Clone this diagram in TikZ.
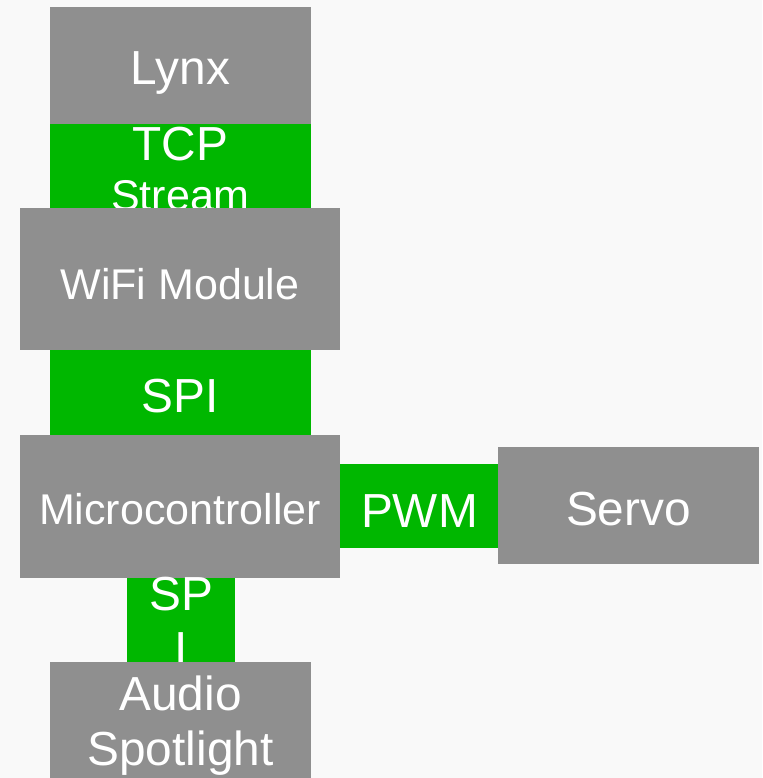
\documentclass[tikz,border=0pt]{standalone}
\usepackage{fontspec}
\setmainfont{Liberation Sans}
\definecolor{bg}{HTML}{F9F9F9}
\definecolor{blockgray}{HTML}{8F8F8F}
\definecolor{linkgreen}{HTML}{00B700}
\tikzset{
  block/.style={fill=blockgray, draw=none, inner sep=0pt, outer sep=0pt},
  link/.style={fill=linkgreen, draw=none, inner sep=0pt, outer sep=0pt},
  big/.style={text=white, inner sep=0pt, anchor=base, font=\fontsize{47.8}{55}\selectfont},
  small/.style={text=white, inner sep=0pt, anchor=base, font=\fontsize{43}{49}\selectfont},
}
\begin{document}
\begin{tikzpicture}[x=1pt, y=-1pt]
\useasboundingbox (0,0) rectangle (762,778);
\fill[bg] (0,0) rectangle (762,778);

% Lynx and its TCP link
\node[block, minimum width=261pt, minimum height=117pt] (lynx) at (180.5,65.5) {};
\node[big] (lynxtxt) at (180.5,84.5) {Lynx};
\node[link, minimum width=261pt, minimum height=85pt] (tcp) at (180.5,166.5) {};
\node[big] (tcptxt) at (180.5,160.5) {TCP};
\node[small] (streamtxt) at (180.5,210) {Stream};

% WiFi module
\node[block, minimum width=320pt, minimum height=142pt] (wifi) at (180,279) {};
\node[small] (wifitxt) at (180,299) {WiFi Module};

% SPI link
\node[link, minimum width=261pt, minimum height=85pt] (spi) at (180.5,392.5) {};
\node[big] (spitxt) at (180.5,412.5) {SPI};

% Microcontroller, PWM link, servo
\node[block, minimum width=320pt, minimum height=143pt] (mcu) at (180,506.5) {};
\node[small] (mcutxt) at (180,524) {Microcontroller};
\node[link, minimum width=158pt, minimum height=84pt] (pwm) at (419,506) {};
\node[big] (pwmtxt) at (419.5,527.5) {PWM};
\node[block, minimum width=261pt, minimum height=117pt] (servo) at (628.5,505) {};
\node[big] (servotxt) at (628.5,525.5) {Servo};

% narrow SPI link down to the audio spotlight
\node[link, minimum width=108pt, minimum height=84pt] (spi2) at (181,620) {};
\node[big] (spi2a) at (181,610.5) {SP};
\node[big] (spi2b) at (181,665) {I};
\node[block, minimum width=261pt, minimum height=116pt] (audio) at (180.5,720) {};
\node[big] (audiotxt) at (180.5,710.5) {Audio};
\node[big] (spottxt) at (180.5,765.5) {Spotlight};
\end{tikzpicture}
\end{document}
